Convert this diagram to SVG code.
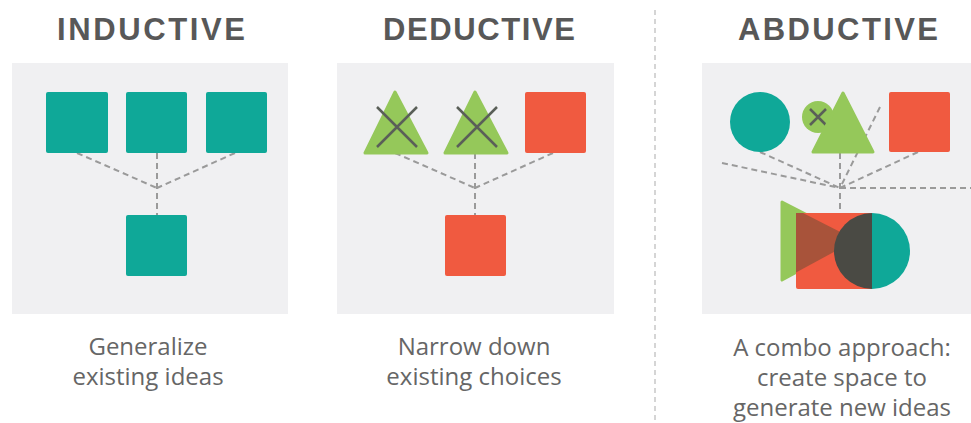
<svg xmlns="http://www.w3.org/2000/svg" width="971" height="423" viewBox="0 0 971 423">
<style>
.title{font-family:"Liberation Sans",Arial,sans-serif;font-weight:bold;font-size:31px;fill:#585858;}
.cap{font-family:"Open Sans","Liberation Sans",sans-serif;font-size:24px;fill:#666;text-anchor:middle;}
.panel{fill:#f0f0f2;}
.teal{fill:#0fa898;}
.red{fill:#f05a40;}
.green{fill:#95c85a;}
.dash{stroke:#9a9a9a;stroke-width:2;stroke-dasharray:6 4;fill:none;}
.x{stroke:#5a5f58;stroke-width:2.5;fill:none;}
</style>
<rect width="971" height="423" fill="#ffffff"/>
<line x1="655" y1="10" x2="655" y2="423" stroke="#c8c8c8" stroke-width="1.5" stroke-dasharray="5 4"/>

<g id="inductive">
<text class="title" x="57" y="40" textLength="188" lengthAdjust="spacing">INDUCTIVE</text>
<rect class="panel" x="12" y="63" width="276" height="251"/>
<g class="dash">
<line x1="77" y1="153" x2="157" y2="188"/>
<line x1="157" y1="153" x2="157" y2="215"/>
<line x1="235" y1="153" x2="157" y2="188"/>
</g>
<rect class="teal" x="46" y="92" width="62" height="61" rx="2"/>
<rect class="teal" x="126" y="92" width="61" height="61" rx="2"/>
<rect class="teal" x="206" y="92" width="61" height="61" rx="2"/>
<rect class="teal" x="126" y="215" width="61" height="61" rx="2"/>
<text class="cap" x="148" y="355">Generalize</text>
<text class="cap" x="148" y="385">existing ideas</text>
</g>

<g id="deductive">
<text class="title" x="383" y="40" textLength="192" lengthAdjust="spacing">DEDUCTIVE</text>
<rect class="panel" x="337" y="63" width="277" height="251"/>
<g class="dash">
<line x1="395" y1="153" x2="475" y2="188"/>
<line x1="475" y1="153" x2="475" y2="215"/>
<line x1="553" y1="153" x2="475" y2="188"/>
</g>
<path class="green" d="M395 92 L427 153 L365 153 Z" stroke="#95c85a" stroke-width="3" stroke-linejoin="round"/>
<path class="x" d="M377 107 L417 147 M417 107 L377 147"/>
<path class="green" d="M475 92 L507 153 L445 153 Z" stroke="#95c85a" stroke-width="3" stroke-linejoin="round"/>
<path class="x" d="M457 107 L497 147 M497 107 L457 147"/>
<rect class="red" x="525" y="92" width="61" height="61" rx="2"/>
<rect class="red" x="445" y="215" width="61" height="61" rx="2"/>
<text class="cap" x="474" y="355">Narrow down</text>
<text class="cap" x="474" y="385">existing choices</text>
</g>

<g id="abductive">
<text class="title" x="738" y="40" textLength="200" lengthAdjust="spacing">ABDUCTIVE</text>
<rect class="panel" x="702" y="63" width="269" height="251"/>
<g class="dash">
<line x1="760" y1="152" x2="840" y2="188"/>
<line x1="722" y1="163" x2="840" y2="188"/>
<line x1="840" y1="153" x2="840" y2="212"/>
<line x1="880" y1="107" x2="840" y2="188"/>
<line x1="918" y1="152" x2="840" y2="188"/>
<line x1="840" y1="188" x2="971" y2="188"/>
</g>
<circle class="teal" cx="760" cy="122" r="30"/>
<circle class="green" cx="818" cy="117" r="16"/>
<path class="x" d="M810 109 L826 125 M826 109 L810 125"/>
<path class="green" d="M843 93 L873 152 L813 152 Z" stroke="#95c85a" stroke-width="3" stroke-linejoin="round"/>
<rect class="red" x="889" y="92" width="61" height="60" rx="2"/>
<g id="combo">
<path class="green" d="M782 202 L856 240 L782 280 Z" stroke="#95c85a" stroke-width="3" stroke-linejoin="round"/>
<rect class="red" x="796" y="213" width="76" height="76" rx="2"/>
<path d="M796 213 L803 213 L856 240 L796 272.5 Z" fill="#a8533a"/>
<path class="teal" d="M872 213 A38 38 0 0 1 872 289 Z"/>
<path d="M872 213 A38 38 0 0 0 872 289 Z" fill="#4a4a44"/>
</g>
<text class="cap" x="842" y="356">A combo approach:</text>
<text class="cap" x="842" y="386">create space to</text>
<text class="cap" x="842" y="416">generate new ideas</text>
</g>
</svg>
